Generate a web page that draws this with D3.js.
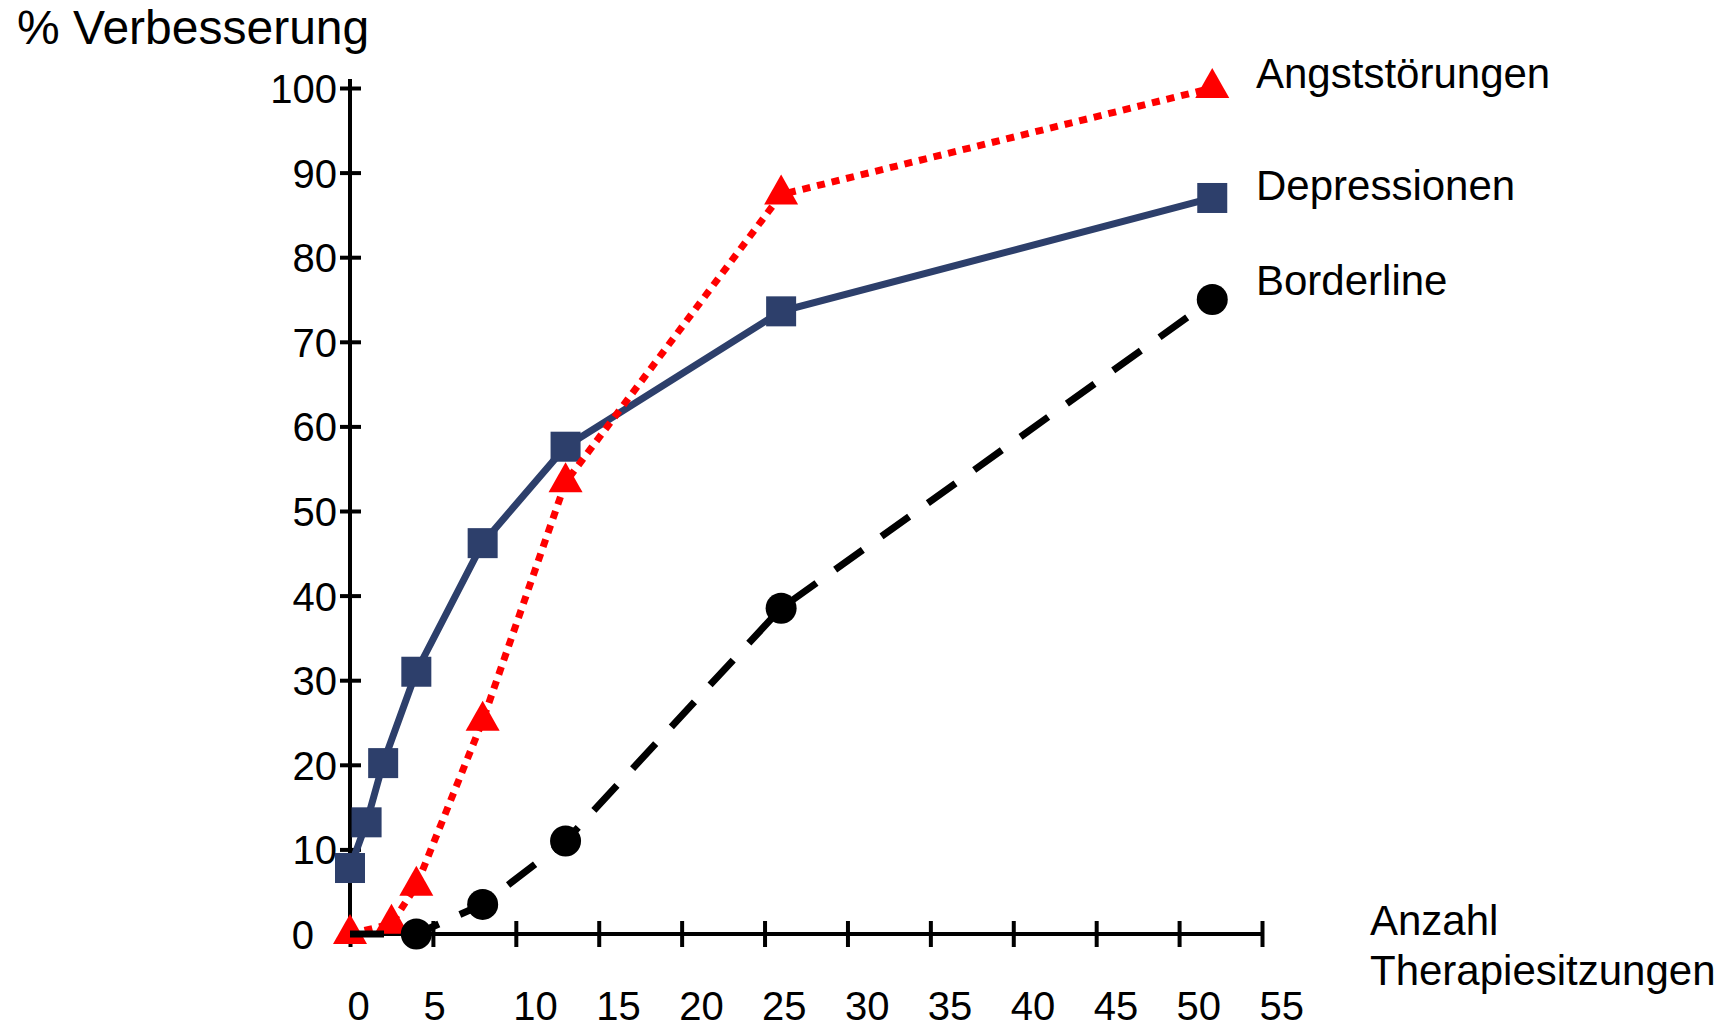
<!DOCTYPE html>
<html>
<head>
<meta charset="utf-8">
<script src="https://cdn.jsdelivr.net/npm/d3@7"></script>
<style>
  body { margin: 0; background: #fff; }
  svg { display: block; font-family: "Liberation Sans", Arial, sans-serif; }
</style>
</head>
<body>
<div id="graf"></div>
<script>
// datos
const xTicks = [0, 5, 10, 15, 20, 25, 30, 35, 40, 45, 50, 55];
const yTicks = [0, 10, 20, 30, 40, 50, 60, 70, 80, 90, 100];

const depX = [0, 1, 2, 4, 8, 13, 26, 52];
const depY = [7.8, 13.2, 20.2, 31, 46.2, 57.6, 73.6, 87];

const angstX = [0, 2.5, 4, 8, 13, 26, 52];
const angstY = [0, 1.2, 5.7, 25.2, 53.4, 87.4, 100];

const bordX = [0, 4, 8, 13, 26, 52];
const bordY = [0, 0, 3.5, 11, 38.5, 75];

const serien = ["Angststörungen", "Depressionen", "Borderline"];

// Dimensiones
const anchoTotal = 1735;
const altoTotal = 1029;

const svg = d3.select("#graf")
  .append("svg")
  .attr("width", anchoTotal)
  .attr("height", altoTotal);

// Escaladores
const x = d3.scaleLinear().domain([0, 55]).range([350, 1262]);
const y = d3.scaleLinear().domain([0, 100]).range([934, 88]);

const zip = (xs, ys) => xs.map((v, i) => ({ x: v, y: ys[i] }));
const dep = zip(depX, depY);
const angst = zip(angstX, angstY);
const bord = zip(bordX, bordY);

// Ejes
const ejes = svg.append("g");

const xAxis = d3.axisBottom(x).tickValues(xTicks).tickSizeOuter(0).tickSize(13);
const gx = ejes.append("g")
  .attr("transform", `translate(0, ${y(0)})`)
  .call(xAxis);
gx.select(".domain").remove();
gx.selectAll(".tick line")
  .attr("y1", -13).attr("y2", 13)
  .attr("stroke", "#000").attr("stroke-width", 4);
// las etiquetas de una cifra van un poco corridas a la izquierda
gx.selectAll(".tick text")
  .attr("y", 86).attr("dy", 0)
  .attr("text-anchor", "start")
  .attr("x", d => d === 5 ? -10 : -3)
  .attr("fill", "#000")
  .style("font-size", "40px");

const yAxis = d3.axisLeft(y).tickValues(yTicks).tickSizeOuter(0).tickSize(10);
const gy = ejes.append("g")
  .attr("transform", `translate(${x(0)}, 0)`)
  .call(yAxis);
gy.select(".domain").remove();
gy.selectAll(".tick line")
  .attr("x1", -10).attr("x2", 11)
  .attr("stroke", "#000").attr("stroke-width", 4);
gy.selectAll(".tick text")
  .attr("x", d => d === 0 ? -36 : -13)
  .attr("dy", "0.36em")
  .attr("fill", "#000")
  .style("font-size", "40px");

ejes.append("line")
  .attr("x1", x(0)).attr("x2", x(55))
  .attr("y1", y(0)).attr("y2", y(0))
  .attr("stroke", "#000").attr("stroke-width", 4);
ejes.append("line")
  .attr("x1", x(0)).attr("x2", x(0))
  .attr("y1", y(0) + 2).attr("y2", y(100) - 9)
  .attr("stroke", "#000").attr("stroke-width", 4);

const linea = d3.line().x(d => x(d.x)).y(d => y(d.y));

// Depressionen
const azul = "#2d3f6b";
svg.append("path")
  .datum(dep)
  .attr("d", linea)
  .attr("fill", "none")
  .attr("stroke", azul)
  .attr("stroke-width", 7);
svg.append("g").selectAll("rect")
  .data(dep)
  .join("rect")
  .attr("x", d => x(d.x) - 15)
  .attr("y", d => y(d.y) - 15)
  .attr("width", 30)
  .attr("height", 30)
  .attr("fill", azul);

// Angststörungen
svg.append("path")
  .datum(angst)
  .attr("d", linea)
  .attr("fill", "none")
  .attr("stroke", "#ff0000")
  .attr("stroke-width", 7)
  .attr("stroke-dasharray", "8,7");
const tri = "M0,-20 L17,10 L-17,10 Z";
svg.append("g").selectAll("path")
  .data(angst)
  .join("path")
  .attr("d", tri)
  .attr("transform", d => `translate(${x(d.x)}, ${y(d.y)})`)
  .attr("fill", "#ff0000");

// Borderline
svg.append("path")
  .datum(bord)
  .attr("d", linea)
  .attr("fill", "none")
  .attr("stroke", "#000")
  .attr("stroke-width", 7)
  .attr("stroke-dasharray", "34,23");
svg.append("g").selectAll("circle")
  .data(bord.filter((d, i) => i > 0))
  .join("circle")
  .attr("cx", d => x(d.x))
  .attr("cy", d => y(d.y))
  .attr("r", 15.5)
  .attr("fill", "#000");

// Titulos
svg.append("text")
  .attr("x", 17).attr("y", 44)
  .style("font-size", "48px")
  .text("% Verbesserung");

const legY = [88, 200, 295];
svg.append("g").selectAll("text")
  .data(serien)
  .join("text")
  .attr("x", 1256)
  .attr("y", (d, i) => legY[i])
  .style("font-size", "42px")
  .text(d => d);

svg.append("text")
  .attr("x", 1370).attr("y", 935)
  .style("font-size", "42px")
  .text("Anzahl");
svg.append("text")
  .attr("x", 1370).attr("y", 985)
  .style("font-size", "42px")
  .text("Therapiesitzungen");
</script>
</body>
</html>
